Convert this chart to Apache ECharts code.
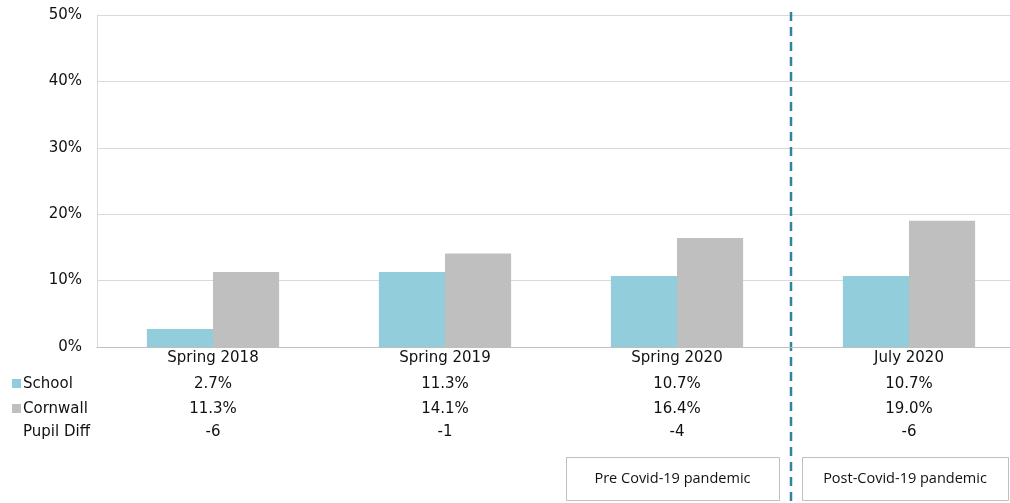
<!DOCTYPE html>
<html>
<head>
<meta charset="utf-8">
<script src="https://cdn.jsdelivr.net/npm/echarts@6/dist/echarts.min.js"></script>
<style>
html,body{margin:0;padding:0;background:#fff;}
#chart{width:1010px;height:503px;}
</style>
</head>
<body>
<div id="chart"></div>
<script>
// Chart data
const categories = ['Spring 2018', 'Spring 2019', 'Spring 2020', 'July 2020'];
const schoolValues = [2.7, 11.3, 10.7, 10.7];
const cornwallValues = [11.3, 14.1, 16.4, 19.0];
const pupilDiff = [-6, -1, -4, -6];
const rowNames = ['School', 'Cornwall', 'Pupil Diff'];
const periodLabels = ['Pre Covid-19 pandemic', 'Post-Covid-19 pandemic'];

const COLORS = { school: '#92CDDC', cornwall: '#BFBFBF', divider: '#31849B', text: '#111111' };
const FONT = 'Verdana, "DejaVu Sans", sans-serif';
const FS = 15;

const chart = echarts.init(document.getElementById('chart'), null, { renderer: 'canvas' });

// table rows rendered as extra category axes sharing the grid
function tableAxis(data, offset) {
  return {
    type: 'category', data: data, position: 'bottom', offset: offset,
    axisLine: { show: false }, axisTick: { show: false }, splitLine: { show: false },
    axisLabel: { color: COLORS.text, fontFamily: FONT, fontSize: FS, margin: 4, interval: 0 }
  };
}

const option = {
  animation: false,
  grid: { left: 97, top: 15, right: -15, bottom: 156, containLabel: false, outerBoundsMode: 'none' },
  xAxis: [
    {
      type: 'category', data: categories,
      axisLine: { show: true, lineStyle: { color: '#bfbfbf', width: 1 } },
      axisTick: { show: false },
      axisLabel: { color: COLORS.text, fontFamily: FONT, fontSize: FS, margin: 4, interval: 0 }
    },
    tableAxis(schoolValues.map(v => v.toFixed(1) + '%'), 26),
    tableAxis(cornwallValues.map(v => v.toFixed(1) + '%'), 51),
    tableAxis(pupilDiff.map(v => String(v)), 74)
  ],
  yAxis: {
    type: 'value', min: 0, max: 50, interval: 10,
    axisLine: { show: true, lineStyle: { color: '#d9d9d9' } },
    axisTick: { show: false },
    splitLine: { lineStyle: { color: '#d9d9d9', width: 1 } },
    axisLabel: { formatter: '{value}%', color: COLORS.text, fontFamily: FONT, fontSize: FS, margin: 15 }
  },
  series: [
    {
      name: 'School', type: 'bar', data: schoolValues,
      itemStyle: { color: COLORS.school }, barGap: '0%', barCategoryGap: '43%'
    },
    {
      name: 'Cornwall', type: 'bar', data: cornwallValues,
      itemStyle: { color: COLORS.cornwall }, barGap: '0%', barCategoryGap: '43%'
    }
  ]
};
chart.setOption(option);

// row headers, divider and period boxes
const rowY = [384, 409, 432];
const rowColors = [COLORS.school, COLORS.cornwall, null];
const graphics = [];
rowNames.forEach((name, i) => {
  if (rowColors[i]) {
    graphics.push({ type: 'rect', shape: { x: 12, y: rowY[i] - 5, width: 9, height: 9 }, style: { fill: rowColors[i] } });
  }
  graphics.push({
    type: 'text', x: 23, y: rowY[i],
    style: { text: name, fill: COLORS.text, font: FS + 'px ' + FONT, verticalAlign: 'middle' }
  });
});

const x3 = chart.convertToPixel({ xAxisIndex: 0 }, categories[2]);
const x4 = chart.convertToPixel({ xAxisIndex: 0 }, categories[3]);
const divX = Math.round((x3 + x4) / 2) - 2;
graphics.push({
  type: 'line', shape: { x1: divX, y1: 12, x2: divX, y2: 503 },
  style: { stroke: COLORS.divider, lineWidth: 2.5, lineDash: [9, 6] }
});

const boxes = [
  { x: 566, w: 213 },
  { x: 802, w: 206 }
];
boxes.forEach((b, i) => {
  graphics.push({
    type: 'rect', shape: { x: b.x + 0.5, y: 457.5, width: b.w, height: 43 },
    style: { fill: '#fff', stroke: '#bfbfbf', lineWidth: 1 }
  });
  graphics.push({
    type: 'text', x: b.x + b.w / 2, y: 479,
    style: { text: periodLabels[i], fill: COLORS.text, font: '14.5px "Open Sans", sans-serif', align: 'center', verticalAlign: 'middle' }
  });
});
chart.setOption({ graphic: graphics });
</script>
</body>
</html>
